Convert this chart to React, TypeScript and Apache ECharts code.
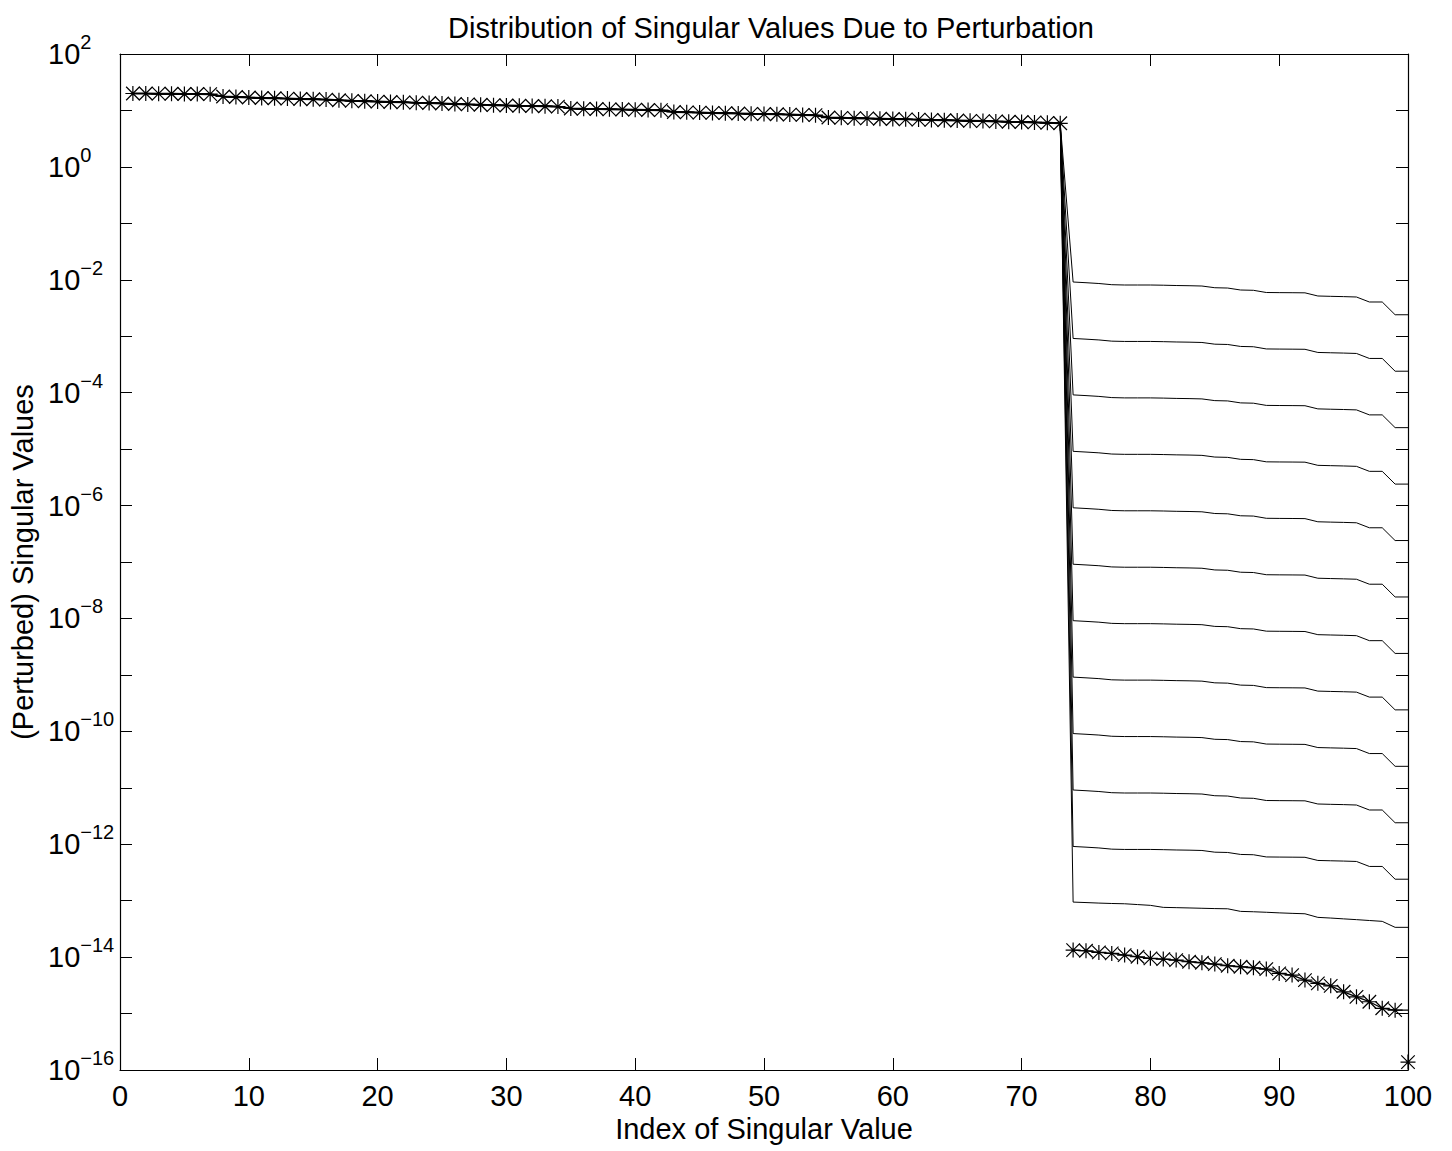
import React, { useEffect, useRef } from "react";
import * as echarts from "echarts";

const TITLE = "Distribution of Singular Values Due to Perturbation";
const X_NAME = "Index of Singular Value";
const Y_NAME = "(Perturbed) Singular Values";

const X_MIN = 0;
const X_MAX = 100;
const X_STEP = 10;
const Y_MIN = 1e-16;
const Y_MAX = 1e2;

// original singular values, indices 1..73
const leadingValues = [
  19.96, 19.96, 19.8, 19.72, 19.56, 19.56, 19.4,
  17.66, 17.31, 16.96, 16.62, 16.42, 16.22, 15.95, 15.76, 15.57,
  15.13, 14.82, 14.58, 14.34, 14.11, 13.94, 13.72, 13.55, 13.28,
  13.01, 12.8, 12.59, 12.39, 12.24, 12.09, 11.99, 11.85, 11.7,
  10.82, 10.69, 10.6, 10.47, 10.39, 10.31, 10.18, 10.1,
  9.38, 9.27, 9.16, 9.05, 8.94, 8.83, 8.72, 8.65, 8.55, 8.44, 8.34, 8.24,
  7.49, 7.4, 7.31, 7.22, 7.13, 7.05, 6.96, 6.88, 6.79, 6.71, 6.63, 6.55, 6.47,
  6.39, 6.31, 6.24, 6.14, 6.04, 5.92,
];

// original singular values, indices 74..100
const trailingValues = [
  1.333e-14, 1.295e-14, 1.213e-14, 1.164e-14, 1.087e-14, 1.014e-14, 9.5e-15,
  9.23e-15, 8.87e-15, 8.28e-15, 7.94e-15, 7.53e-15, 7.03e-15, 6.75e-15,
  6.48e-15, 6.14e-15, 5.15e-15, 4.81e-15, 3.92e-15, 3.43e-15, 3.1e-15,
  2.43e-15, 1.98e-15, 1.62e-15, 1.24e-15, 1.15e-15, 1.38e-16,
];
// the line through the trailing stars ends flat at index 100
const trailingLineEnd = 1.15e-15;

// perturbed singular values 74..100 for the largest perturbation (~1e-2)
const perturbedTailTop = [
  9.13e-3, 8.87e-3, 8.59e-3, 8.18e-3, 8.08e-3, 8.08e-3, 8.08e-3, 8.01e-3,
  7.91e-3, 7.85e-3, 7.75e-3, 7.23e-3, 7.14e-3, 6.59e-3, 6.51e-3, 5.95e-3,
  5.92e-3, 5.9e-3, 5.87e-3, 5.16e-3, 5.09e-3, 5.03e-3, 4.95e-3, 4.04e-3,
  4.04e-3, 2.4e-3, 2.4e-3,
];
// perturbation levels relative to the top curve (1e-2 ... 1e-12)
const perturbScales = [1, 1e-1, 1e-2, 1e-3, 1e-4, 1e-5, 1e-6, 1e-7, 1e-8, 1e-9, 1e-10];
// perturbed singular values 74..100 for the smallest visible perturbation (~1e-13)
const perturbedTailBottom = [
  9.44e-14, 9.25e-14, 9.06e-14, 8.91e-14, 8.81e-14, 8.53e-14, 8.26e-14,
  7.61e-14, 7.52e-14, 7.43e-14, 7.33e-14, 7.24e-14, 7.18e-14, 6.46e-14,
  6.36e-14, 6.23e-14, 6.08e-14, 5.96e-14, 5.86e-14, 5.06e-14, 4.92e-14,
  4.76e-14, 4.61e-14, 4.45e-14, 4.3e-14, 3.37e-14, 3.37e-14,
];

const FONT = "Liberation Sans, Arial, Helvetica, sans-serif";
const STAR =
  "path://M0,-10L0,10M-10,0L10,0M-9,-9L9,9M-9,9L9,-9";

export default function App() {
  const ref = useRef<HTMLDivElement>(null);
  useEffect(() => {
    if (!ref.current) return;
    const chart = echarts.init(ref.current, undefined, { renderer: "svg" });
    const tailStart = leadingValues.length + 1;

    const lineBase = {
      type: "line" as const,
      showSymbol: false,
      symbol: "none",
      silent: true,
      lineStyle: { color: "#000", width: 1 },
      xAxisIndex: 0,
      yAxisIndex: 0,
    };

    const perturbedSeries: any[] = perturbScales.map((s) => ({
      ...lineBase,
      data: leadingValues
        .map((v, i) => [i + 1, v])
        .concat(perturbedTailTop.map((v, i) => [tailStart + i, v * s])),
    }));
    perturbedSeries.push({
      ...lineBase,
      data: leadingValues
        .map((v, i) => [i + 1, v])
        .concat(perturbedTailBottom.map((v, i) => [tailStart + i, v])),
    });

    const trailingLine = {
      ...lineBase,
      lineStyle: { color: "#000", width: 1.3 },
      data: trailingValues
        .slice(0, trailingValues.length - 1)
        .map((v, i) => [tailStart + i, v])
        .concat([[tailStart + trailingValues.length - 1, trailingLineEnd]]),
    };
    const leadingLine = {
      ...lineBase,
      lineStyle: { color: "#000", width: 2 },
      data: leadingValues.map((v, i) => [i + 1, v]),
    };

    const starData = leadingValues
      .map((v, i) => [i + 1, v])
      .concat(trailingValues.map((v, i) => [tailStart + i, v]));

    const fmt = (v: number) => {
      const e = Math.round(Math.log10(v));
      if (e % 2 !== 0) return "";
      const es = e < 0 ? "\u2212" + -e : String(e);
      return `{b|10}{e|${es}}`;
    };

    const tickStyle = { inside: true, length: 12, lineStyle: { color: "#000", width: 1 } };
    const axisLine = { show: true, onZero: false, lineStyle: { color: "#000", width: 1.2 } };

    chart.setOption({
      animation: false,
      backgroundColor: "#fff",
      title: {
        text: TITLE,
        left: 766,
        top: 8,
        textAlign: "center",
        textStyle: { fontFamily: FONT, fontSize: 29, fontWeight: "normal", color: "#000" },
      },
      grid: { left: 120, right: 44, top: 54, bottom: 81, containLabel: false },
      xAxis: [
        {
          type: "value",
          min: X_MIN,
          max: X_MAX,
          interval: X_STEP,
          position: "bottom",
          name: X_NAME,
          nameLocation: "middle",
          nameGap: 43,
          nameTextStyle: { fontFamily: FONT, fontSize: 29, color: "#000" },
          axisLine,
          axisTick: tickStyle,
          splitLine: { show: false },
          axisLabel: { fontFamily: FONT, fontSize: 29, color: "#000", margin: 11 },
        },
        {
          type: "value",
          min: X_MIN,
          max: X_MAX,
          interval: X_STEP,
          position: "top",
          axisLine,
          axisTick: tickStyle,
          splitLine: { show: false },
          axisLabel: { show: false },
        },
      ],
      yAxis: [
        {
          type: "log",
          logBase: 10,
          min: Y_MIN,
          max: Y_MAX,
          interval: 1,
          splitNumber: 18,
          position: "left",
          name: Y_NAME,
          nameLocation: "middle",
          nameGap: 76,
          nameRotate: 90,
          nameTextStyle: { fontFamily: FONT, fontSize: 29, color: "#000" },
          axisLine,
          axisTick: tickStyle,
          splitLine: { show: false },
          axisLabel: {
            formatter: fmt,
            align: "left",
            margin: 72,
            color: "#000",
            rich: {
              b: { fontFamily: FONT, fontSize: 29, lineHeight: 44, color: "#000", verticalAlign: "middle" },
              e: { fontFamily: FONT, fontSize: 20, lineHeight: 20, color: "#000", verticalAlign: "top" },
            },
          },
        },
        {
          type: "log",
          logBase: 10,
          min: Y_MIN,
          max: Y_MAX,
          interval: 1,
          splitNumber: 18,
          position: "right",
          axisLine,
          axisTick: tickStyle,
          splitLine: { show: false },
          axisLabel: { show: false },
        },
      ],
      series: [
        ...perturbedSeries,
        leadingLine,
        trailingLine,
        {
          type: "scatter",
          symbol: STAR,
          symbolSize: 15,
          silent: true,
          xAxisIndex: 0,
          yAxisIndex: 0,
          itemStyle: { color: "transparent", borderColor: "#000", borderWidth: 1.2, opacity: 1 },
          data: starData,
        },
      ],
    });
    return () => chart.dispose();
  }, []);
  return (
    <div
      ref={ref}
      style={{ position: "fixed", left: 0, top: 0, width: 1452, height: 1151, background: "#fff" }}
    />
  );
}
